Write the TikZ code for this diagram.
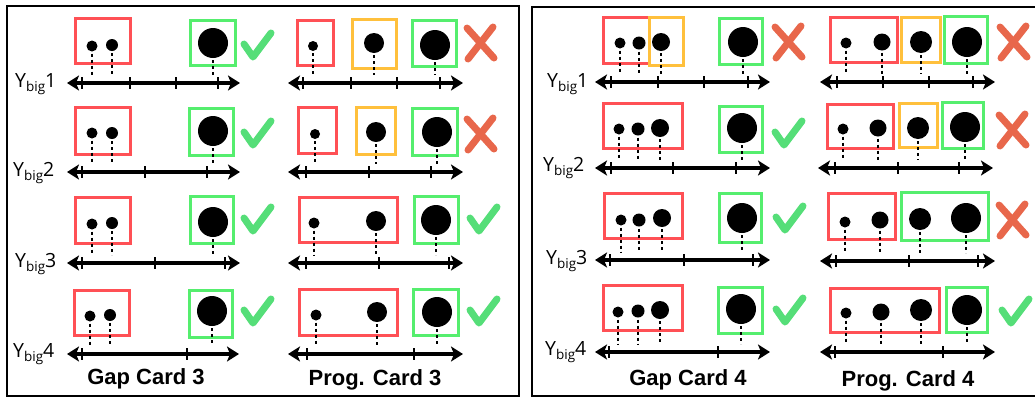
\documentclass[tikz,border=0pt]{standalone}
\usepackage{fontspec}
\setmainfont{Liberation Sans}
\newfontfamily\yfont{Open Sans}
\usetikzlibrary{arrows.meta}
\definecolor{cred}{RGB}{255,80,85}
\definecolor{cgreen}{RGB}{85,238,110}
\definecolor{cyel}{RGB}{255,192,60}
\definecolor{ccheck}{RGB}{85,222,120}
\definecolor{ccross}{RGB}{232,103,75}
\tikzset{
 panel/.style={draw=black, line width=2.5pt},
 redbox/.style={draw=cred, line width=3pt},
 greenbox/.style={draw=cgreen, line width=3pt},
 yelbox/.style={draw=cyel, line width=3pt},
 bdot/.style={circle, fill=black, inner sep=0pt, outer sep=0pt},
 dline/.style={draw=black, line width=1.8pt, dash pattern=on 3pt off 3pt},
 axisline/.style={draw=black, line width=3.6pt, {Stealth[length=12pt,width=15pt,inset=3pt]}-{Stealth[length=12pt,width=15pt,inset=3pt]}},
 tickline/.style={draw=black, line width=2.4pt},
 checkline/.style={draw=ccheck, line width=7pt, line cap=round, line join=round},
 crossline/.style={draw=ccross, line width=7pt, line cap=round},
 cardlabel/.style={font=\fontsize{22}{26}\selectfont\bfseries, inner sep=0pt},
 ylabel/.style={font=\yfont\fontsize{19.5}{22}\selectfont, anchor=base west, inner sep=0pt},
}
\newcommand{\pdot}[5]{%
  \node[bdot, minimum size={2*#4}] (#1) at (#2,#3) {};
  \coordinate (#1e) at (#2,#5-8);
  \draw[dline] ([yshift=-2pt]#1.south) -- (#1e);}
\newcommand{\axisrow}[5]{%
  \coordinate (#1L) at (#2,#4); \coordinate (#1R) at (#3,#4);
  \draw[axisline] (#1L) -- (#1R);
  \foreach \t in {#5} {\draw[tickline] (\t,#4-6) -- (\t,#4+6);}}
\newcommand{\checkmk}[3]{%
  \coordinate (#1) at (#2,#3);
  \draw[checkline] ([shift={(4,14)}]#1) -- ++(9,13) -- ++(18,-24);}
\newcommand{\crossmk}[3]{%
  \coordinate (#1) at (#2,#3);
  \draw[crossline] ([shift={(5,5)}]#1) -- ++(27,30);
  \draw[crossline] ([shift={(31,4)}]#1) -- ++(-25,32);}
\newcommand{\yb}[1]{Y\raisebox{-4.5pt}{\fontsize{13.5}{15}\selectfont big}#1}
\begin{document}
\begin{tikzpicture}[x=1pt,y=-1pt]
\useasboundingbox (0,0) rectangle (1035,400);
\draw[panel] (7,6) rectangle (519,396);
\draw[panel] (532,7) rectangle (1037,396);

% ---------- Left panel: Gap Card 3 ----------
\node[ylabel] (ylA1) at (15,87) {\yb{1}};
\node[ylabel] (ylA2) at (13,176) {\yb{2}};
\node[ylabel] (ylA3) at (15,267) {\yb{3}};
\node[ylabel] (ylA4) at (13,357) {\yb{4}};

\draw[redbox] (75,18) rectangle (130,63);
\draw[greenbox] (190,20) rectangle (235,65);
\pdot{gA1a}{92}{46}{5.5}{83}
\pdot{gA1b}{112}{45}{6}{83}
\pdot{gA1c}{213}{43}{15}{83}
\axisrow{gA1}{67}{240}{83}{82,130,176,218}
\checkmk{gA1k}{240}{30}

\draw[redbox] (75,107) rectangle (130,154);
\draw[greenbox] (189,108) rectangle (233,155);
\pdot{gA2a}{92}{133}{5.5}{172}
\pdot{gA2b}{112}{133}{6}{172}
\pdot{gA2c}{213}{131}{15}{172}
\axisrow{gA2}{67}{240}{172}{82,145,207}
\checkmk{gA2k}{240}{118}

\draw[redbox] (75,197) rectangle (130,243);
\draw[greenbox] (190,196) rectangle (233,243);
\pdot{gA3a}{92}{224}{5.5}{263}
\pdot{gA3b}{112}{223}{6}{263}
\pdot{gA3c}{213}{222}{15}{263}
\axisrow{gA3}{67}{240}{263}{82,155,225}
\checkmk{gA3k}{240}{204}

\draw[redbox] (74,290) rectangle (129,335);
\draw[greenbox] (189,290) rectangle (232,337);
\pdot{gA4a}{90}{316}{5.5}{354}
\pdot{gA4b}{110}{315}{6}{354}
\pdot{gA4c}{212}{311}{15}{354}
\axisrow{gA4}{67}{239}{354}{82,187}
\checkmk{gA4k}{240}{296}

\node[cardlabel] (labA) at (146,379) {Gap Card 3};

% ---------- Left panel: Prog. Card 3 ----------
\draw[redbox] (297,20) rectangle (333,65);
\draw[yelbox] (352,19) rectangle (396,68);
\draw[greenbox] (412,20) rectangle (456,66);
\pdot{pA1a}{313}{46}{5}{83}
\pdot{pA1b}{374}{43}{10}{83}
\pdot{pA1c}{435}{45}{15}{83}
\axisrow{pA1}{288}{463}{83}{303,351,397,440}
\crossmk{pA1x}{462}{23}

\draw[redbox] (298,107) rectangle (336,153);
\draw[yelbox] (356,107) rectangle (395,154);
\draw[greenbox] (412,108) rectangle (457,155);
\pdot{pA2a}{315}{134}{5}{172}
\pdot{pA2b}{376}{132}{10}{172}
\pdot{pA2c}{437}{132}{15}{172}
\axisrow{pA2}{288}{463}{172}{306,369,431}
\crossmk{pA2x}{462}{114}

\draw[redbox] (299,197) rectangle (397,242);
\draw[greenbox] (414,196) rectangle (458,243);
\pdot{pA3a}{314}{223}{5.5}{263}
\pdot{pA3b}{376}{221}{10}{263}
\pdot{pA3c}{436}{220}{15}{263}
\axisrow{pA3}{288}{463}{263}{306,379,449}
\checkmk{pA3k}{466}{204}

\draw[redbox] (299,289) rectangle (397,335);
\draw[greenbox] (413,289) rectangle (458,335);
\pdot{pA4a}{316}{315}{5.5}{354}
\pdot{pA4b}{377}{312}{10}{354}
\pdot{pA4c}{437}{312}{15}{354}
\axisrow{pA4}{288}{463}{354}{307,414}
\checkmk{pA4k}{466}{296}

\node[cardlabel] (labB) at (375,380) {Prog. Card 3};

% ---------- Right panel: Gap Card 4 ----------
\node[ylabel] (ylB1) at (547,87) {\yb{1}};
\node[ylabel] (ylB2) at (543,171) {\yb{2}};
\node[ylabel] (ylB3) at (546,264) {\yb{3}};
\node[ylabel] (ylB4) at (545,355) {\yb{4}};

\draw[redbox] (603,17) rectangle (649,63);
\draw[yelbox] (649,17) rectangle (683,65);
\draw[greenbox] (719,18) rectangle (762,64);
\pdot{gB1a}{620}{43}{5.5}{82}
\pdot{gB1b}{639}{43}{6.5}{82}
\pdot{gB1c}{661}{42}{9}{82}
\pdot{gB1d}{743}{42}{15}{82}
\axisrow{gB1}{595}{770}{82}{611,658,704,748}
\crossmk{gB1x}{770}{22}

\draw[redbox] (603,103) rectangle (682,148);
\draw[greenbox] (719,106) rectangle (762,152);
\pdot{gB2a}{619}{129}{5.5}{168}
\pdot{gB2b}{638}{129}{6.5}{168}
\pdot{gB2c}{660}{128}{9}{168}
\pdot{gB2d}{742}{128}{15}{168}
\axisrow{gB2}{595}{770}{168}{611,673,736}
\checkmk{gB2k}{771}{118}

\draw[redbox] (604,193) rectangle (682,238);
\draw[greenbox] (719,193) rectangle (761,242);
\pdot{gB3a}{621}{220}{5.5}{260}
\pdot{gB3b}{639}{220}{6.5}{260}
\pdot{gB3c}{662}{218}{9}{260}
\pdot{gB3d}{742}{218}{15}{260}
\axisrow{gB3}{595}{770}{260}{610,684,753}
\checkmk{gB3k}{772}{203}

\draw[redbox] (603,285) rectangle (682,330);
\draw[greenbox] (718,287) rectangle (762,333);
\pdot{gB4a}{618}{312}{5.5}{352}
\pdot{gB4b}{638}{311}{6.5}{352}
\pdot{gB4c}{660}{310}{9}{352}
\pdot{gB4d}{741}{309}{15}{352}
\axisrow{gB4}{595}{770}{352}{609,718}
\checkmk{gB4k}{772}{295}

\node[cardlabel] (labC) at (688,380) {Gap Card 4};

% ---------- Right panel: Prog. Card 4 ----------
\draw[redbox] (830,17) rectangle (897,62);
\draw[yelbox] (901,17) rectangle (940,62);
\draw[greenbox] (944,16) rectangle (987,63);
\pdot{pB1a}{846}{43}{5.5}{82}
\pdot{pB1b}{882}{42}{8.5}{82}
\pdot{pB1c}{921}{42}{11}{82}
\pdot{pB1d}{967}{42}{15}{82}
\axisrow{pB1}{820}{995}{82}{837,883,929,973}
\crossmk{pB1x}{995}{22}

\draw[redbox] (827,104) rectangle (893,148);
\draw[yelbox] (899,103) rectangle (937,147);
\draw[greenbox] (942,102) rectangle (983,148);
\pdot{pB2a}{843}{129}{5.5}{168}
\pdot{pB2b}{878}{128}{8.5}{168}
\pdot{pB2c}{918}{128}{11}{168}
\pdot{pB2d}{965}{127}{15}{168}
\axisrow{pB2}{818}{993}{168}{835,898,959}
\crossmk{pB2x}{994}{110}

\draw[redbox] (828,193) rectangle (895,239);
\draw[greenbox] (901,192) rectangle (988,240);
\pdot{pB3a}{845}{222}{5.5}{261}
\pdot{pB3b}{880}{220}{8.5}{261}
\pdot{pB3c}{920}{219}{11}{261}
\pdot{pB3d}{966}{218}{15}{261}
\axisrow{pB3}{820}{995}{261}{836,909,978}
\crossmk{pB3x}{994}{200}

\draw[redbox] (830,288) rectangle (939,332);
\draw[greenbox] (946,287) rectangle (987,332);
\pdot{pB4a}{846}{313}{5.5}{352}
\pdot{pB4b}{881}{312}{8.5}{352}
\pdot{pB4c}{921}{310}{11}{352}
\pdot{pB4d}{967}{310}{15}{352}
\axisrow{pB4}{820}{995}{352}{835,943}
\checkmk{pB4k}{998}{296}

\node[cardlabel] (labD) at (908,381) {Prog. Card 4};
\end{tikzpicture}
\end{document}
